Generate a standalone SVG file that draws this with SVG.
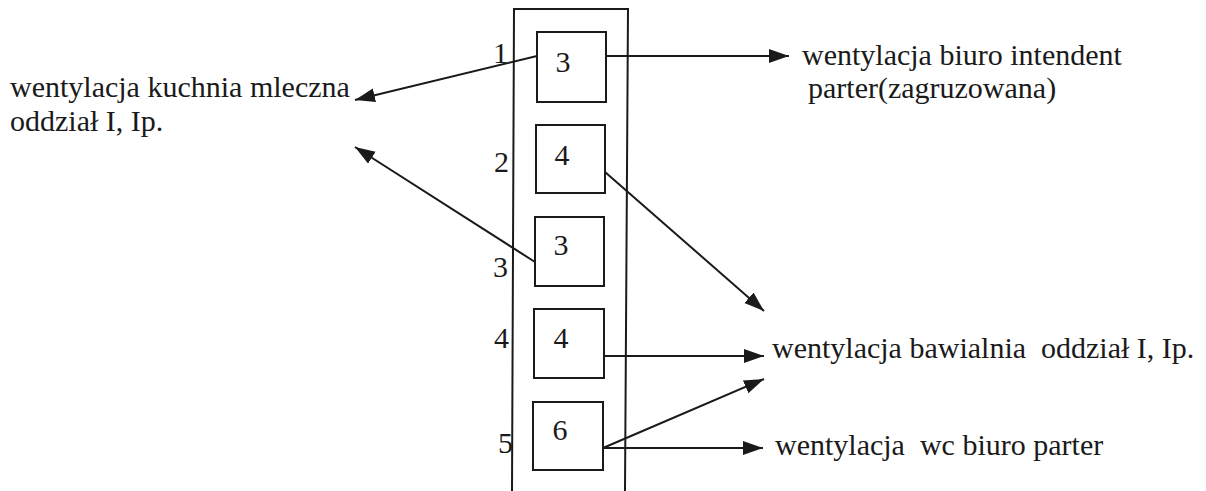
<svg xmlns="http://www.w3.org/2000/svg" width="1206" height="491" viewBox="0 0 1206 491">
<style>
.t{font-family:"Liberation Serif","Times New Roman",serif;font-size:30px;fill:#1a1a1a;white-space:pre}
.n{text-anchor:middle}
.l{text-anchor:end}
.box{fill:none;stroke:#1a1a1a;stroke-width:2}
.c{fill:none;stroke:#1a1a1a;stroke-width:2;marker-end:url(#ah)}
</style>
<defs>
<marker id="ah" markerUnits="userSpaceOnUse" markerWidth="22" markerHeight="16" refX="20" refY="7" orient="auto">
<path d="M0,0 L20,7 L0,14 Z" fill="#1a1a1a"/>
</marker>
</defs>
<rect width="1206" height="491" fill="#fff"/>
<g id="shaft">
<path class="box" d="M512,491 L514,9 L628,9 L625,491"/>
</g>
<g id="node1">
<rect class="box" x="537" y="32" width="69" height="70"/>
<text class="t n" x="563" y="72">3</text>
<text class="t l" x="508" y="63">1</text>
</g>
<g id="node2">
<rect class="box" x="536" y="125" width="69" height="68"/>
<text class="t n" x="562" y="165">4</text>
<text class="t l" x="509" y="172">2</text>
</g>
<g id="node3">
<rect class="box" x="535" y="217" width="69" height="69"/>
<text class="t n" x="561" y="255">3</text>
<text class="t l" x="508" y="277">3</text>
</g>
<g id="node4">
<rect class="box" x="534" y="309" width="70" height="69"/>
<text class="t n" x="561" y="348">4</text>
<text class="t l" x="509" y="348">4</text>
</g>
<g id="node5">
<rect class="box" x="533" y="402" width="70" height="68"/>
<text class="t n" x="560" y="440">6</text>
<text class="t l" x="513" y="453">5</text>
</g>
<g id="label-kuchnia">
<text class="t" x="10" y="97">wentylacja kuchnia mleczna</text>
<text class="t" x="10" y="131">oddział I, Ip.</text>
</g>
<g id="label-intendent">
<text class="t" x="802" y="65">wentylacja biuro intendent</text>
<text class="t" x="808" y="98">parter(zagruzowana)</text>
</g>
<g id="label-bawialnia">
<text class="t" x="772" y="358">wentylacja bawialnia  oddział I, Ip.</text>
</g>
<g id="label-wc">
<text class="t" x="775" y="455">wentylacja  wc biuro parter</text>
</g>
<g id="connectors">
<line class="c" x1="537" y1="56" x2="355" y2="100"/>
<line class="c" x1="606" y1="56" x2="789" y2="56"/>
<line class="c" x1="535" y1="262" x2="355" y2="147"/>
<line class="c" x1="605" y1="172" x2="764" y2="311"/>
<line class="c" x1="604" y1="356" x2="764" y2="356"/>
<line class="c" x1="603" y1="448" x2="764" y2="379"/>
<line class="c" x1="603" y1="448" x2="763" y2="448"/>
</g>
</svg>
